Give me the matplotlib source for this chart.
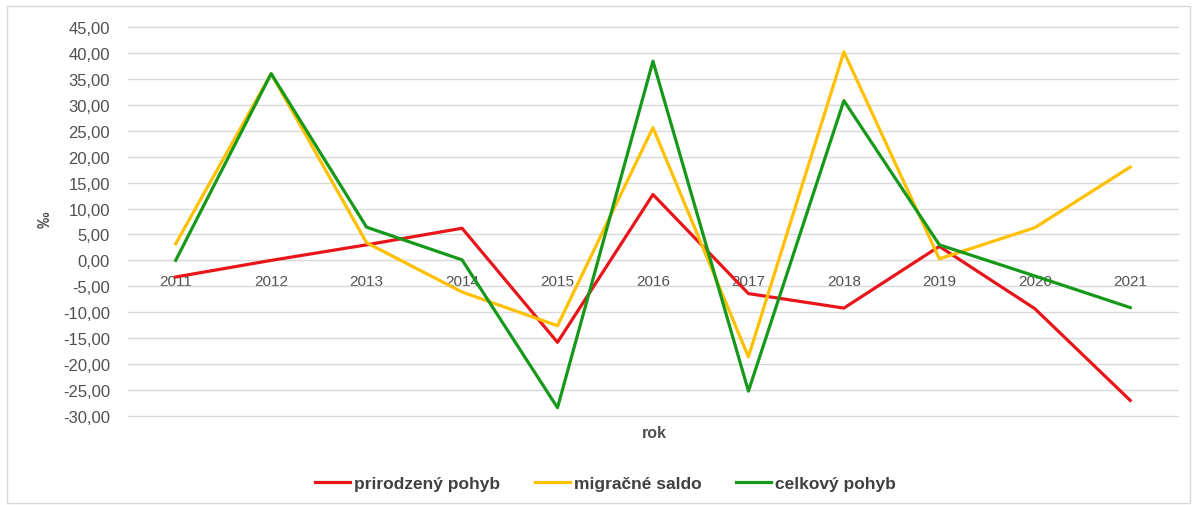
import matplotlib
matplotlib.use('Agg')
import matplotlib.pyplot as plt
from matplotlib.ticker import FuncFormatter, MultipleLocator
from matplotlib.patches import Rectangle

# ── data ─────────────────────────────────────────────────────────────
years = ['2011', '2012', '2013', '2014', '2015', '2016',
         '2017', '2018', '2019', '2020', '2021']
prirodzeny = [-3.2, 0.0, 3.0, 6.2, -15.8, 12.7, -6.4, -9.2, 2.7, -9.3, -27.0]
migracne   = [3.2, 36.0, 3.4, -6.1, -12.6, 25.6, -18.6, 40.2, 0.3, 6.3, 18.0]
celkovy    = [0.0, 36.0, 6.4, 0.1, -28.4, 38.4, -25.2, 30.8, 3.0, -3.0, -9.1]

# ── palette ──────────────────────────────────────────────────────────
RED    = '#E8161B'
YELLOW = '#FFC000'
GREEN  = '#16991A'
GRID   = '#D9D9D9'
TXT    = '#505050'

plt.rcParams['font.family'] = ['Liberation Sans', 'DejaVu Sans']

fig = plt.figure(figsize=(11.97, 5.06), dpi=100)
fig.patch.set_facecolor('white')
ax = fig.add_axes([0.1069, 0.1759, 0.8772, 0.7688])

x = range(len(years))
ax.plot(x, prirodzeny, color=RED, lw=2.3, label='prirodzený pohyb', zorder=3)
ax.plot(x, migracne, color=YELLOW, lw=2.3, label='migračné saldo', zorder=3)
ax.plot(x, celkovy, color=GREEN, lw=2.3, label='celkový pohyb', zorder=3)

ax.set_xlim(-0.5, len(years) - 0.5)
ax.set_ylim(-30, 45)
ax.yaxis.set_major_locator(MultipleLocator(5))
ax.yaxis.set_major_formatter(FuncFormatter(lambda v, p: f'{v:.2f}'.replace('.', ',')))
ax.grid(axis='y', color=GRID, lw=1.0, zorder=0)
ax.set_axisbelow(True)
for gl in ax.get_ygridlines():
    gl.set_clip_on(False)

ax.set_xticks(list(x))
ax.set_xticklabels(years)
for s in ['top', 'right', 'left']:
    ax.spines[s].set_visible(False)
ax.spines['bottom'].set_position(('data', 0))
ax.spines['bottom'].set_color(GRID)
ax.tick_params(axis='x', length=0, pad=10, labelsize=11, labelcolor=TXT)
ax.tick_params(axis='y', length=0, pad=13, labelsize=12, labelcolor=TXT)

fig.text(0.038, 0.565, '‰', rotation=90, fontsize=12, fontweight='bold',
         color=TXT, ha='center', va='center')
fig.text(0.547, 0.144, 'rok', fontsize=11.5, fontweight='bold',
         color=TXT, ha='center', va='center')

leg = fig.legend(loc='center', bbox_to_anchor=(0.506, 0.043), ncol=3,
                 frameon=False, fontsize=12.5, handlelength=2.0,
                 handletextpad=0.25, columnspacing=2.0)
for t in leg.get_texts():
    t.set_color('#404040')
    t.set_fontweight('bold')

# outer chart border
fig.patches.append(Rectangle((0.006, 0.004), 0.988, 0.982, transform=fig.transFigure,
                             fill=False, edgecolor=GRID, lw=1.0))

fig.savefig('out.png', dpi=100, facecolor='white')
